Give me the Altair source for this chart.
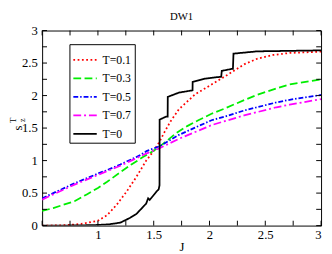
import altair as alt
import pandas as pd

SERIES = ["T=0.1", "T=0.3", "T=0.5", "T=0.7", "T=0"]
COLORS = ["#ff0000", "#00ee00", "#0000ff", "#ff00ff", "#000000"]
DASHES = [[1.8, 2.6], [8, 3.5], [5, 2, 1.5, 2], [8, 3, 2, 3], [1, 0]]

J_01 = [0.5, 0.6, 0.7, 0.85, 1.0, 1.083, 1.17, 1.258, 1.345, 1.433, 1.5, 1.552, 1.6, 1.65, 1.726,
        1.872, 2.018, 2.163, 2.31, 2.426, 2.572, 2.718, 3.0]
S_01 = [0.0, 0.002, 0.006, 0.025, 0.075, 0.16, 0.325, 0.525, 0.75, 1.0, 1.15, 1.29, 1.45, 1.6, 1.79,
        2.02, 2.17, 2.32, 2.48, 2.565, 2.625, 2.655, 2.675]

J_03 = [0.5, 0.6, 0.79, 0.9, 1.0, 1.083, 1.2, 1.3, 1.4, 1.5, 1.55, 1.6, 1.7, 1.8, 1.9, 2.018,
        2.135, 2.31, 2.426, 2.6, 2.718, 3.0]
S_03 = [0.225, 0.27, 0.375, 0.48, 0.58, 0.675, 0.82, 0.94, 1.05, 1.15, 1.21, 1.28, 1.42, 1.53, 1.62,
        1.72, 1.8, 1.93, 2.01, 2.11, 2.17, 2.25]

J_05 = [0.5, 0.6, 0.79, 1.0, 1.083, 1.2, 1.375, 1.435, 1.552, 1.726, 1.9, 2.018, 2.135, 2.31,
        2.426, 2.6, 2.718, 3.0]
S_05 = [0.42, 0.5, 0.65, 0.8, 0.855, 0.94, 1.08, 1.145, 1.22, 1.395, 1.53, 1.62, 1.675, 1.77,
        1.82, 1.895, 1.935, 2.01]

J_07 = [0.5, 0.6, 0.79, 1.0, 1.2, 1.435, 1.552, 1.726, 2.018, 2.31, 2.426, 2.6, 2.718, 3.0]
S_07 = [0.40, 0.48, 0.63, 0.78, 0.92, 1.11, 1.19, 1.335, 1.545, 1.695, 1.745, 1.82, 1.86, 1.945]

J_0 = [0.5, 0.8, 1.0, 1.1, 1.2, 1.289, 1.345, 1.406, 1.433, 1.45, 1.464, 1.5, 1.523, 1.545,
       1.552, 1.553, 1.61, 1.625, 1.626, 1.726, 1.828, 1.848, 1.849, 1.958, 2.08, 2.105, 2.11,
       2.2, 2.21, 2.215, 2.426, 3.0]
S_0 = [0.0, 0.002, 0.01, 0.02, 0.045, 0.12, 0.18, 0.29, 0.34, 0.42, 0.395, 0.47, 0.52, 0.56,
       0.62, 1.63, 1.675, 1.675, 1.98, 2.045, 2.075, 2.08, 2.21, 2.26, 2.285, 2.29, 2.38,
       2.41, 2.41, 2.645, 2.68, 2.695]

X_TICKS = [0.5, 0.75, 1.0, 1.25, 1.5, 1.75, 2.0, 2.25, 2.5, 2.75, 3.0]
Y_TICKS = [0.0, 0.25, 0.5, 0.75, 1.0, 1.25, 1.5, 1.75, 2.0, 2.25, 2.5, 2.75, 3.0]
X_LABELS = [1.0, 1.5, 2.0, 2.5, 3.0]
Y_LABELS = [0.0, 0.5, 1.0, 1.5, 2.0, 2.5, 3.0]

rows = []
for name, js, ss in [("T=0.1", J_01, S_01), ("T=0.3", J_03, S_03), ("T=0.5", J_05, S_05),
                     ("T=0.7", J_07, S_07), ("T=0", J_0, S_0)]:
    for i, (j, s) in enumerate(zip(js, ss)):
        rows.append({"J": j, "s": s, "series": name, "idx": i})
df = pd.DataFrame(rows)

W, H = 286, 200
FONT = "Liberation Serif"
xscale = alt.Scale(domain=[0.5, 3], nice=False, zero=False)
yscale = alt.Scale(domain=[0, 3], nice=False, zero=False)

AX_X = alt.Axis(values=X_LABELS, format="~g", ticks=False, domain=False, grid=False,
                labelPadding=3, labelFont=FONT, labelFontSize=13, labelColor="black",
                title="J", titleFont=FONT, titleFontSize=13, titleFontWeight="normal",
                titleColor="black", titlePadding=0)
AX_Y = alt.Axis(values=Y_LABELS, format="~g", ticks=False, domain=False, grid=False,
                labelPadding=5, labelFont=FONT, labelFontSize=13, labelColor="black",
                title=None)

lines = alt.Chart(df).mark_line(clip=True, strokeWidth=1.8, strokeCap="butt").encode(
    x=alt.X("J:Q", scale=xscale, axis=AX_X, title="J"),
    y=alt.Y("s:Q", scale=yscale, axis=AX_Y, title=None),
    color=alt.Color("series:N", scale=alt.Scale(domain=SERIES, range=COLORS),
                    legend=alt.Legend(title=None)),
    strokeDash=alt.StrokeDash("series:N", scale=alt.Scale(domain=SERIES, range=DASHES),
                              legend=alt.Legend(title=None)),
    order=alt.Order("idx:Q"),
)

xt = pd.DataFrame({"v": X_TICKS})
yt = pd.DataFrame({"v": Y_TICKS})
tick_x_bottom = alt.Chart(xt).mark_rule(color="black", strokeWidth=1).encode(
    x=alt.X("v:Q", scale=xscale, axis=AX_X, title="J"), y=alt.value(H), y2=alt.value(H - 5))
tick_x_top = alt.Chart(xt).mark_rule(color="black", strokeWidth=1).encode(
    x=alt.X("v:Q", scale=xscale, axis=AX_X, title="J"), y=alt.value(0), y2=alt.value(5))
tick_y_left = alt.Chart(yt).mark_rule(color="black", strokeWidth=1).encode(
    y=alt.Y("v:Q", scale=yscale, axis=AX_Y, title=None), x=alt.value(0), x2=alt.value(5))
tick_y_right = alt.Chart(yt).mark_rule(color="black", strokeWidth=1).encode(
    y=alt.Y("v:Q", scale=yscale, axis=AX_Y, title=None), x=alt.value(W), x2=alt.value(W - 5))

one = pd.DataFrame({"t": ["DW1"]})
title = alt.Chart(one).mark_text(font=FONT, fontSize=11, baseline="alphabetic", align="center",
                                 color="black").encode(
    text="t:N", x=alt.value(W / 2), y=alt.value(-11))

lab = pd.DataFrame({"t": ["s"]})
ylab_s = alt.Chart(lab).mark_text(font=FONT, fontSize=13, angle=270, align="center",
                                  baseline="middle", color="black").encode(
    text="t:N", x=alt.value(-25), y=alt.value(100))
lab_z = pd.DataFrame({"t": ["z"]})
ylab_z = alt.Chart(lab_z).mark_text(font=FONT, fontSize=8, angle=270, align="center",
                                    baseline="middle", color="black").encode(
    text="t:N", x=alt.value(-20), y=alt.value(92))
lab_T = pd.DataFrame({"t": ["T"]})
ylab_T = alt.Chart(lab_T).mark_text(font=FONT, fontSize=9, angle=270, align="center",
                                    baseline="middle", color="black").encode(
    text="t:N", x=alt.value(-30), y=alt.value(92))

chart = alt.layer(
    lines, tick_x_bottom, tick_x_top, tick_y_left, tick_y_right, title, ylab_s, ylab_z, ylab_T
).properties(
    width=W, height=H,
    autosize=alt.AutoSizeParams(type="none"),
    padding={"left": 35, "top": 20, "right": 3, "bottom": 26},
).configure_view(
    stroke="black", strokeWidth=1
).configure_legend(
    orient="none", legendX=28, legendY=14, padding=3, strokeColor="#000000",
    fillColor="white", labelFont=FONT, labelFontSize=12, labelColor="black",
    symbolType="stroke", symbolSize=576, symbolStrokeWidth=1.8, rowPadding=0,
    labelOffset=5, cornerRadius=0,
)

chart.save("out.html", embed_options={"renderer": "svg", "actions": False})
